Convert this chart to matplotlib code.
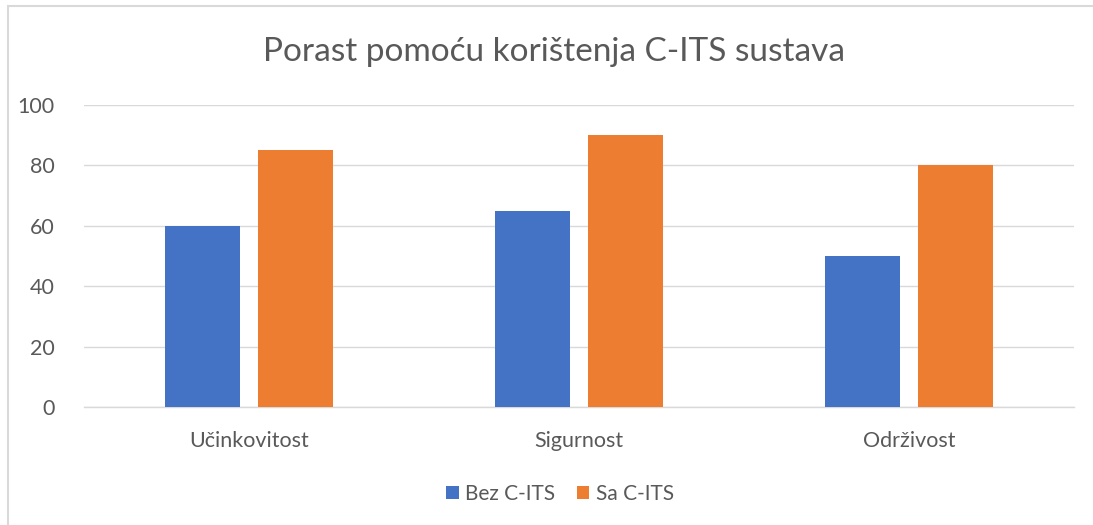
import matplotlib
matplotlib.use("Agg")
import matplotlib.pyplot as plt
from matplotlib.patches import Rectangle
import numpy as np

categories = ["Učinkovitost", "Sigurnost", "Održivost"]
bez = [60, 65, 50]
sa = [85, 90, 80]
series_names = ["Bez C-ITS", "Sa C-ITS"]
yticks = [0, 20, 40, 60, 80, 100]

plt.rcParams['font.family'] = ['Lato', 'DejaVu Sans']
TXT = '#595959'
W, H = 1093, 525
fig = plt.figure(figsize=(W/100, H/100), dpi=100)
fig.patches.append(Rectangle((8/W, -0.1), 1.2, (H-6)/H + 0.1, transform=fig.transFigure,
                             fill=False, edgecolor='#d9d9d9', linewidth=1.5))

ax = fig.add_axes([84/W, 1-407/H, (1074-84)/W, (407-105)/H])
x = np.arange(len(categories))
bw = 0.227
ax.bar(x - 0.142, bez, bw, color='#4472C4', label=series_names[0], zorder=3)
ax.bar(x + 0.142, sa, bw, color='#ED7D31', label=series_names[1], zorder=3)
ax.set_xlim(-0.5, 2.5)
ax.set_ylim(0, 100)
ax.set_yticks(yticks)
ax.yaxis.grid(True, color='#d9d9d9', linewidth=1, zorder=0)
for s in ['top', 'right', 'left']:
    ax.spines[s].set_visible(False)
ax.spines['bottom'].set_color('#d9d9d9')
ax.spines['bottom'].set_linewidth(1)
ax.tick_params(axis='both', length=0, labelsize=15.5, labelcolor=TXT)
ax.tick_params(axis='y', pad=21)
ax.tick_params(axis='x', pad=17)
ax.set_xticks(x)
ax.set_xticklabels(categories)

fig.text(554/W, 1-52/H, "Porast pomoću korištenja C-ITS sustava", ha='center', va='center',
         fontsize=24, color=TXT)
fig.legend(loc='center', bbox_to_anchor=(560/W, 1-494/H), ncol=2, frameon=False,
           fontsize=15, labelcolor=TXT, handlelength=0.6, handleheight=0.6,
           handletextpad=0.3, columnspacing=1.05)
fig.savefig("out.png", dpi=100)
